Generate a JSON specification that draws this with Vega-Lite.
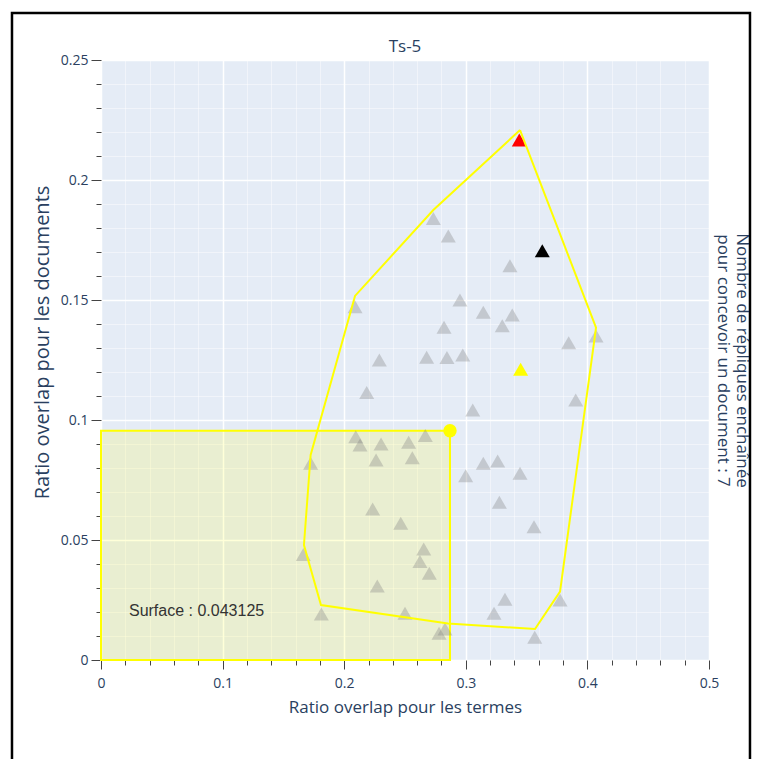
{
  "$schema": "https://vega.github.io/schema/vega-lite/v6.json",
  "width": 608,
  "height": 600,
  "autosize": {"type": "none"},
  "padding": {"left": 101, "top": 60, "right": 53, "bottom": 99},
  "background": "white",
  "config": {"view": {"fill": "#E5ECF6", "stroke": null}, "font": "Open Sans"},
  "title": {"text": "Ts-5", "fontSize": 17, "fontWeight": "normal", "color": "#2a3f5f", "font": "Open Sans", "offset": 8, "dy": 52},
  "datasets": {
    "pts": [
      {"x": 0.2733, "y": 0.1840}, {"x": 0.2856, "y": 0.1767}, {"x": 0.2089, "y": 0.1472}, {"x": 0.2821, "y": 0.1386},
      {"x": 0.2289, "y": 0.1250}, {"x": 0.2678, "y": 0.1261}, {"x": 0.2845, "y": 0.1260}, {"x": 0.3363, "y": 0.1643},
      {"x": 0.2952, "y": 0.1500}, {"x": 0.3144, "y": 0.1449}, {"x": 0.3382, "y": 0.1438}, {"x": 0.3300, "y": 0.1393},
      {"x": 0.3846, "y": 0.1322}, {"x": 0.4071, "y": 0.1350}, {"x": 0.2975, "y": 0.1271}, {"x": 0.2185, "y": 0.1115},
      {"x": 0.2095, "y": 0.0930}, {"x": 0.2130, "y": 0.0896}, {"x": 0.2303, "y": 0.0900}, {"x": 0.2530, "y": 0.0907},
      {"x": 0.2667, "y": 0.0935}, {"x": 0.2262, "y": 0.0833}, {"x": 0.2560, "y": 0.0843}, {"x": 0.1724, "y": 0.0820},
      {"x": 0.2234, "y": 0.0629}, {"x": 0.2465, "y": 0.0570}, {"x": 0.2654, "y": 0.0463}, {"x": 0.2623, "y": 0.0410},
      {"x": 0.2700, "y": 0.0361}, {"x": 0.1664, "y": 0.0440}, {"x": 0.2272, "y": 0.0308}, {"x": 0.1812, "y": 0.0192},
      {"x": 0.2500, "y": 0.0195}, {"x": 0.2780, "y": 0.0111}, {"x": 0.2829, "y": 0.0129}, {"x": 0.3057, "y": 0.1042},
      {"x": 0.3904, "y": 0.1083}, {"x": 0.3144, "y": 0.0820}, {"x": 0.3262, "y": 0.0829}, {"x": 0.2999, "y": 0.0768},
      {"x": 0.3446, "y": 0.0778}, {"x": 0.3276, "y": 0.0657}, {"x": 0.3561, "y": 0.0555}, {"x": 0.3322, "y": 0.0253},
      {"x": 0.3232, "y": 0.0195}, {"x": 0.3775, "y": 0.0250}, {"x": 0.3567, "y": 0.0095}
    ],
    "special": [
      {"x": 0.3440, "y": 0.2167, "c": "#ff0000"},
      {"x": 0.3629, "y": 0.1705, "c": "#000000"},
      {"x": 0.3451, "y": 0.1211, "c": "#ffff00"}
    ],
    "best": [{"x": 0.2870, "y": 0.0955}],
    "box": [{"x": 0, "y": 0, "x2": 0.2870, "y2": 0.0955}],
    "hull": [
      {"i": 0, "x": 0.3446, "y": 0.2208}, {"i": 1, "x": 0.4071, "y": 0.1385}, {"i": 2, "x": 0.3775, "y": 0.0285},
      {"i": 3, "x": 0.3569, "y": 0.0129}, {"i": 4, "x": 0.2854, "y": 0.0152}, {"i": 5, "x": 0.1809, "y": 0.0229},
      {"i": 6, "x": 0.1669, "y": 0.0479}, {"i": 7, "x": 0.1724, "y": 0.0854}, {"i": 8, "x": 0.2089, "y": 0.1517},
      {"i": 9, "x": 0.2733, "y": 0.1875}, {"i": 10, "x": 0.3446, "y": 0.2208}
    ],
    "note": [{"x": 0.0230, "y": 0.0204, "text": "Surface : 0.043125"}],
    "frame": [{"x": -0.0732, "x2": 0.5337, "y": -0.1, "y2": 0.2696}]
  },
  "encoding": {
    "x": {
      "field": "x", "type": "quantitative",
      "scale": {"domain": [0, 0.5], "nice": false, "zero": false},
      "axis": {
        "title": "Ratio overlap pour les termes",
        "orient": "bottom",
        "values": [0, 0.02, 0.04, 0.06, 0.08, 0.1, 0.12, 0.14, 0.16, 0.18, 0.2, 0.22, 0.24, 0.26, 0.28, 0.3, 0.32, 0.34, 0.36, 0.38, 0.4, 0.42, 0.44, 0.46, 0.48, 0.5],
        "domain": false,
        "labelExpr": "abs(datum.value*10-round(datum.value*10))<1e-6 ? format(datum.value,'~g') : ''",
        "labelOverlap": false,
        "labelFlush": false,
        "labelBound": false,
        "tickSize": 9,
        "tickDash": {"condition": {"test": "abs(datum.value*10-round(datum.value*10))<1e-6", "value": [20, 1]}, "value": [5, 20]},
        "tickColor": "#444",
        "grid": true,
        "gridColor": "#ffffff",
        "gridWidth": {"condition": {"test": "abs(datum.value*10-round(datum.value*10))<1e-6", "value": 1.5}, "value": 1},
        "gridOpacity": {"condition": {"test": "abs(datum.value*10-round(datum.value*10))<1e-6", "value": 1}, "value": 0.45},
        "labelFont": "Open Sans", "labelFontSize": 14, "labelColor": "#2a3f5f", "labelPadding": 7,
        "titleFont": "Open Sans", "titleFontSize": 17, "titleFontWeight": "normal", "titleColor": "#2a3f5f", "titlePadding": 9
      }
    }
  },
  "layer": [
    {
      "data": {"name": "box"},
      "mark": {"type": "rect", "fill": "#ffff00", "fillOpacity": 0.15, "stroke": "#ffff00", "strokeWidth": 2},
      "encoding": {
        "x2": {"field": "x2"},
        "y": {
          "field": "y", "type": "quantitative",
          "scale": {"domain": [0, 0.25], "nice": false, "zero": false},
          "axis": {
            "title": "Ratio overlap pour les documents",
            "values": [0, 0.01, 0.02, 0.03, 0.04, 0.05, 0.06, 0.07, 0.08, 0.09, 0.1, 0.11, 0.12, 0.13, 0.14, 0.15, 0.16, 0.17, 0.18, 0.19, 0.2, 0.21, 0.22, 0.23, 0.24, 0.25],
            "domain": false,
            "labelExpr": "abs(datum.value*20-round(datum.value*20))<1e-6 ? format(datum.value,'~g') : ''",
            "labelOverlap": false,
            "labelFlush": false,
            "labelBound": false,
            "tickSize": 10,
            "tickDash": {"condition": {"test": "abs(datum.value*20-round(datum.value*20))<1e-6", "value": [20, 1]}, "value": [5, 20]},
            "tickColor": "#444",
            "gridColor": "#ffffff",
            "gridWidth": {"condition": {"test": "abs(datum.value*20-round(datum.value*20))<1e-6", "value": 1.5}, "value": 1},
            "gridOpacity": {"condition": {"test": "abs(datum.value*20-round(datum.value*20))<1e-6", "value": 1}, "value": 0.45},
            "labelFont": "Open Sans", "labelFontSize": 14, "labelColor": "#2a3f5f", "labelPadding": 3,
            "titleFont": "Open Sans", "titleFontSize": 20, "titleFontWeight": "normal", "titleColor": "#2a3f5f", "titlePadding": 8,
            "titleY": 282
          }
        },
        "y2": {"field": "y2"}
      }
    },
    {
      "data": {"name": "frame"},
      "mark": {"type": "rect", "fill": null, "fillOpacity": 0, "stroke": "black", "strokeWidth": 2.5, "clip": false},
      "encoding": {
        "x2": {"field": "x2"},
        "y": {"field": "y", "type": "quantitative", "axis": null},
        "y2": {"field": "y2"}
      }
    },
    {
      "data": {"name": "pts"},
      "mark": {"type": "point", "shape": "triangle-up", "filled": true, "size": 225, "color": "#808080", "opacity": 0.33},
      "encoding": {
        "y": {"field": "y", "type": "quantitative", "axis": null}
      }
    },
    {
      "data": {"name": "special"},
      "mark": {"type": "point", "shape": "triangle-up", "filled": true, "size": 225, "opacity": 1},
      "encoding": {
        "y": {"field": "y", "type": "quantitative", "axis": null},
        "color": {"field": "c", "type": "nominal", "scale": null, "legend": null}
      }
    },
    {
      "data": {"name": "hull"},
      "mark": {"type": "line", "color": "#ffff00", "strokeWidth": 2},
      "encoding": {
        "y": {
          "field": "y", "type": "quantitative",
          "axis": {
            "orient": "right",
            "title": ["Nombre de répliques enchaînée", "pour concevoir un document : 7"],
            "labels": false, "ticks": false, "domain": false, "grid": false,
            "titleFont": "Open Sans", "titleFontSize": 17, "titleFontWeight": "normal", "titleColor": "#2a3f5f",
            "titlePadding": 4, "titleAngle": 90
          }
        },
        "order": {"field": "i", "type": "quantitative"}
      }
    },
    {
      "data": {"name": "best"},
      "mark": {"type": "circle", "size": 180, "color": "#ffff00", "opacity": 1},
      "encoding": {
        "y": {"field": "y", "type": "quantitative", "axis": null}
      }
    },
    {
      "data": {"name": "note"},
      "mark": {"type": "text", "font": "Liberation Sans", "fontSize": 16, "color": "#333333", "align": "left", "baseline": "middle"},
      "encoding": {
        "y": {"field": "y", "type": "quantitative", "axis": null},
        "text": {"field": "text"}
      }
    }
  ],
  "resolve": {"axis": {"y": "independent"}}
}
